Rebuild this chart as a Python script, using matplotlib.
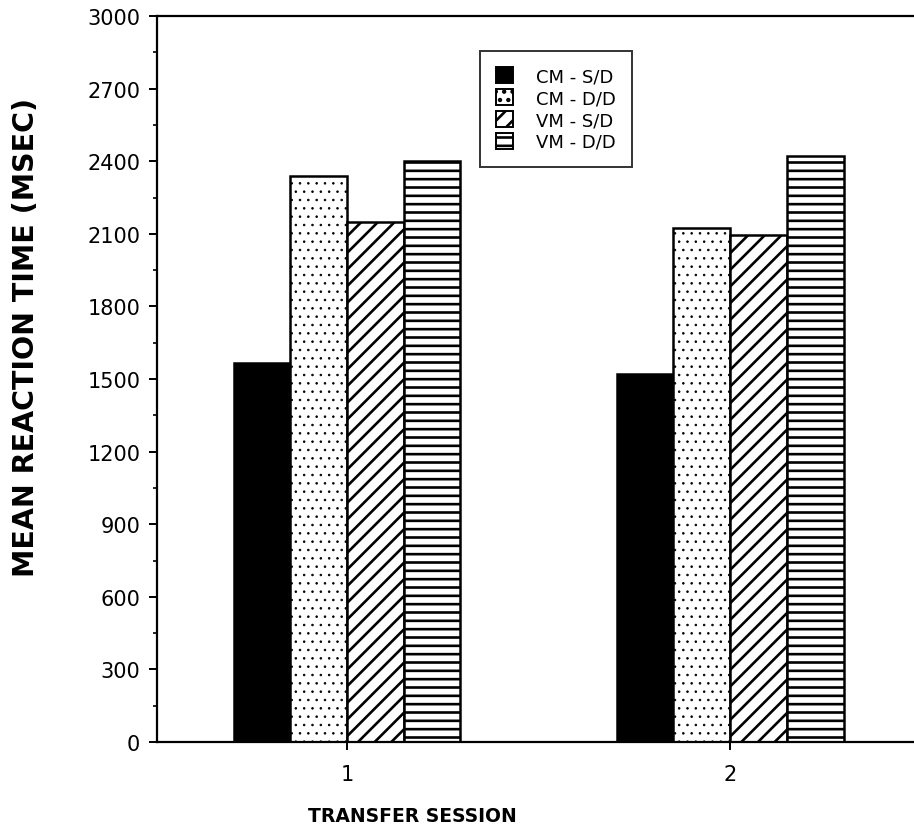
import matplotlib
matplotlib.use('Agg')
import matplotlib.pyplot as plt
import numpy as np
from matplotlib.patches import Patch
from matplotlib.ticker import MultipleLocator

# data
sessions = [1, 2]
series_labels = ['CM - S/D', 'CM - D/D', 'VM - S/D', 'VM - D/D']
cm_sd = [1565, 1520]
cm_dd = [2340, 2125]
vm_sd = [2150, 2095]
vm_dd = [2400, 2420]
y_ticks = [0, 300, 600, 900, 1200, 1500, 1800, 2100, 2400, 2700, 3000]

plt.rcParams.update({
    'font.family': 'DejaVu Sans',
    'hatch.linewidth': 1.9,
    'hatch.color': 'black',
})

fig = plt.figure(figsize=(9.14, 8.28), dpi=100)
ax = fig.add_axes([157 / 914, 85 / 828, 757 / 914, 726 / 828])

series = [cm_sd, cm_dd, vm_sd, vm_dd]
styles = [
    dict(facecolor='black', hatch=None),
    dict(facecolor='white', hatch='..'),
    dict(facecolor='white', hatch='//'),
    dict(facecolor='white', hatch='--'),
]
w = 0.148
x = np.array(sessions, dtype=float)
for i, (vals, st) in enumerate(zip(series, styles)):
    bars = ax.bar(x + (i - 1.5) * w, vals, w, edgecolor='black', linewidth=1.8, **st)
    if st['hatch'] == '..':
        # thinner stroke so the dots stay small
        for b in bars:
            if hasattr(b, 'set_hatch_linewidth'):
                b.set_hatch_linewidth(0.6)

ax.set_xlim(0.504, 2.48)
ax.set_ylim(0, 3000)
ax.set_yticks(y_ticks)
ax.yaxis.set_minor_locator(MultipleLocator(150))
ax.set_xticks(sessions)
ax.set_xticklabels(['1', '2'])

for s in ['left', 'top', 'bottom']:
    ax.spines[s].set_linewidth(1.6)
ax.spines['right'].set_visible(False)

ax.tick_params(axis='y', which='major', direction='out', length=6, width=1.4, labelsize=15, pad=6)
ax.tick_params(axis='y', which='minor', direction='out', length=3, width=1.2)
ax.tick_params(axis='x', which='major', direction='out', length=6, width=1.4, labelsize=15, pad=10)

ax.set_ylabel('MEAN REACTION TIME (MSEC)', fontsize=20.5, fontweight='bold')
ax.yaxis.set_label_coords(-0.155, 0.558)
ax.set_xlabel('TRANSFER SESSION', fontsize=13.5, fontweight='bold')
ax.xaxis.set_label_coords(0.337, -0.088)

handles = [Patch(edgecolor='black', linewidth=1.4, **st) for st in styles]
leg = ax.legend(handles, series_labels, loc='upper left', bbox_to_anchor=(0.4267, 0.952),
                fontsize=13, frameon=True, fancybox=False, handlelength=0.9,
                handleheight=1.0, borderpad=0.9, labelspacing=0.2, handletextpad=1.3,
                borderaxespad=0)
leg.get_frame().set_edgecolor('black')
leg.get_frame().set_linewidth(1.4)

fig.savefig('out.png', dpi=100)
